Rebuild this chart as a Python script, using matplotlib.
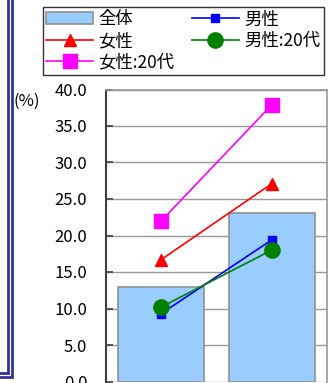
import matplotlib
matplotlib.use("Agg")
import matplotlib.pyplot as plt
from matplotlib.patches import Rectangle
import numpy as np

plt.rcParams['font.family'] = ['Noto Sans CJK JP', 'DejaVu Sans']

categories = ['A', 'B']
total = [12.9, 23.1]
male = [9.3, 19.4]
female = [16.7, 27.1]
male_20s = [10.2, 18.0]
female_20s = [22.0, 37.9]
yticks = [0, 5, 10, 15, 20, 25, 30, 35, 40]

fig = plt.figure(figsize=(3.29, 3.83), dpi=100)
W, H = 329, 383

# double frame of the neighbouring panel on the left
for off, lw in [(0, 2.0), (4.5, 2.0)]:
    fig.patches.append(Rectangle((-50 / W, 1 - (377 - off) / H), (62 - off) / W, (377 - off) / H + 0.05,
                                 transform=fig.transFigure, fill=False,
                                 edgecolor='#333399', linewidth=lw))

ax = fig.add_axes([106 / W, 1 - 381.5 / H, 221 / W, 292 / H])
x = np.arange(len(categories))

bars = ax.bar(x, total, width=0.78, color='#99CCFF', edgecolor='#909090',
              linewidth=1.2, zorder=2, label='全体')
l_m, = ax.plot(x, male, color='blue', marker='s', markersize=6, lw=1.2,
               zorder=3, label='男性')
l_f, = ax.plot(x, female, color='red', marker='^', markersize=9, lw=1.2,
               zorder=3, label='女性')
l_f20, = ax.plot(x, female_20s, color='magenta', marker='s', markersize=10.5,
                 lw=1.2, zorder=3, label='女性:20代')
l_m20, = ax.plot(x, male_20s, color='green', marker='o', markersize=11,
                 lw=1.2, zorder=4, label='男性:20代')

ax.set_xlim(-0.5, 1.5)
ax.set_ylim(0, 40)
ax.set_yticks(yticks)
ax.set_yticklabels([f'{v:.1f}' for v in yticks], fontsize=12)
ax.set_xticks([])
ax.yaxis.grid(True, color='#999999', linewidth=1.0, zorder=0)
ax.set_axisbelow(True)
ax.tick_params(axis='y', direction='in', length=5, width=1.2, color='#404040', pad=13.5)
ax.spines['left'].set_color('#404040')
ax.spines['left'].set_linewidth(1.5)
for s in ['top', 'right']:
    ax.spines[s].set_color('#999999')
    ax.spines[s].set_linewidth(1.2)
ax.spines['bottom'].set_visible(False)

fig.text(27 / W, 1 - 101 / H, '(%)', fontsize=12, ha='center', va='center')

leg = fig.legend([bars, l_f, l_f20, l_m, l_m20],
                 ['全体', '女性', '女性:20代', '男性', '男性:20代'],
                 ncol=2, loc='upper left', bbox_to_anchor=(43 / W, 1 - 7 / H),
                 frameon=True, fancybox=False, edgecolor='black', fontsize=12.5,
                 borderaxespad=0, handlelength=2.7, handletextpad=0.3,
                 columnspacing=1.0, labelspacing=0.2, borderpad=0.2)
leg.get_frame().set_linewidth(1.0)

fig.savefig('out.png', dpi=100)
